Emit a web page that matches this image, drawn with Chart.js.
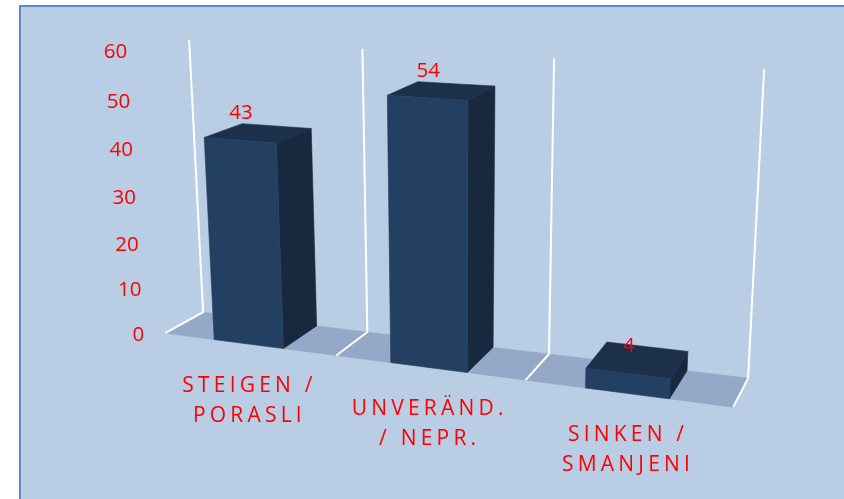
<!DOCTYPE html>
<html><head><meta charset="utf-8">
<style>
html,body{margin:0;padding:0;background:#fff;overflow:hidden}
#panel{position:absolute;left:19px;top:5px;width:840px;height:510px;background:#B9CDE5;border:2px solid #5B8BCB}
#wrap{position:absolute;left:0;top:0;width:844px;height:499px}
</style></head><body>
<div id="panel"></div>
<div id="wrap"><canvas id="c" width="844" height="499"></canvas></div>
<script src="https://cdn.jsdelivr.net/npm/chart.js@4"></script>
<script>
const categories = [["STEIGEN /","PORASLI"],["UNVERÄND.","/ NEPR."],["SINKEN /","SMANJENI"]];
const values = [43,54,4];
const yMax = 60, yStep = 10;
const RED = "#FF0000", WHITE = "#FFFFFF";
const frontColor = "#234062", sideColor = "#17283F", topColor = "#1C304C", floorColor = "#94A9C8";

// perspective frame of the 3D box (layout only)
const floorC = {fl:[164,333], fr:[732,407], bl:[202,312], br:[747,378]};
const riseC  = {fl:[-17,-283], fr:[16,-322], bl:[-14,-272], br:[16,-309]};
function bil(q,s,z,i){return (1-z)*((1-s)*q.fl[i]+s*q.fr[i])+z*((1-s)*q.bl[i]+s*q.br[i]);}

function projector(chart){
  const a = chart.chartArea;
  return function(px,py,z){
    const u=(px-a.left)/(a.right-a.left), v=(a.bottom-py)/(a.bottom-a.top);
    const s=u-0.034+0.144*(u-0.5)*(u-0.5);
    const t=v-0.055*v*(1-v);
    return [bil(floorC,s,z,0)+t*bil(riseC,s,z,0), bil(floorC,s,z,1)+t*bil(riseC,s,z,1)];
  };
}
function poly(ctx,pts,fill){
  ctx.beginPath();pts.forEach((p,i)=>i?ctx.lineTo(p[0],p[1]):ctx.moveTo(p[0],p[1]));ctx.closePath();
  ctx.fillStyle=fill;ctx.fill();
  ctx.strokeStyle=fill;ctx.lineWidth=0.6;ctx.stroke();
}

const box3d = {
  id:"box3d",
  beforeDatasetsDraw(chart){
    const ctx=chart.ctx, P=projector(chart), xs=chart.scales.x, ys=chart.scales.y;
    const y0=ys.getPixelForValue(0), yTop=ys.getPixelForValue(yMax);
    const L=xs.getPixelForValue(-0.5), R=xs.getPixelForValue(categories.length-0.5);
    ctx.save();
    poly(ctx,[P(L,y0,0),P(R,y0,0),P(R,y0,1),P(L,y0,1)],floorColor);
    ctx.strokeStyle=WHITE;ctx.lineWidth=2;ctx.lineJoin="miter";
    for(let i=0;i<=categories.length;i++){
      const x=xs.getPixelForValue(i-0.5);
      ctx.beginPath();
      [P(x,y0,0),P(x,y0,1),P(x,yTop,1)].forEach((p,k)=>k?ctx.lineTo(p[0],p[1]):ctx.moveTo(p[0],p[1]));
      ctx.stroke();
    }
    // bars
    const ds=chart.data.datasets[0];
    chart.getDatasetMeta(0).data.forEach(function(bar){
      const l=bar.x-bar.width/2, r=bar.x+bar.width/2, t=bar.y, b=bar.base;
      poly(ctx,[P(r,b,0),P(r,b,1),P(r,t,1),P(r,t,0)],ds.sideColor);
      poly(ctx,[P(l,t,0),P(r,t,0),P(r,t,1),P(l,t,1)],ds.topColor);
      poly(ctx,[P(l,b,0),P(r,b,0),P(r,t,0),P(l,t,0)],ds.backgroundColor);
    });
    // value labels
    ctx.fillStyle=RED;ctx.font='20.5px "Open Sans"';ctx.textAlign="center";ctx.textBaseline="middle";
    chart.getDatasetMeta(0).data.forEach(function(bar,i){
      const p=P(bar.x,bar.y,0);
      ctx.fillText(String(values[i]),p[0]+1,p[1]-27);
    });
    // y tick labels
    ctx.textAlign="right";
    ys.ticks.forEach(function(tk){
      const p=P(L,ys.getPixelForValue(tk.value),0);
      ctx.fillText(String(tk.value),p[0]-21,p[1]+2.5);
    });
    // category labels
    ctx.textAlign="center";ctx.font='21px "Open Sans"';ctx.letterSpacing="4.2px";
    categories.forEach(function(lines,i){
      const p=P(xs.getPixelForValue(i),y0,0);
      lines.forEach(function(s,k){ctx.fillText(s,p[0]+1,p[1]+42+k*30);});
    });
    ctx.restore();
    return false;
  }
};

new Chart(document.getElementById("c"),{
  type:"bar",
  data:{labels:categories,datasets:[{data:values,backgroundColor:frontColor,sideColor:sideColor,topColor:topColor,barPercentage:0.405,categoryPercentage:1}]},
  options:{
    responsive:false,animation:false,
    layout:{padding:0},
    plugins:{legend:{display:false},tooltip:{enabled:false}},
    scales:{
      x:{display:false},
      y:{display:false,min:0,max:yMax,ticks:{stepSize:yStep}}
    }
  },
  plugins:[box3d]
});
</script>
</body></html>
